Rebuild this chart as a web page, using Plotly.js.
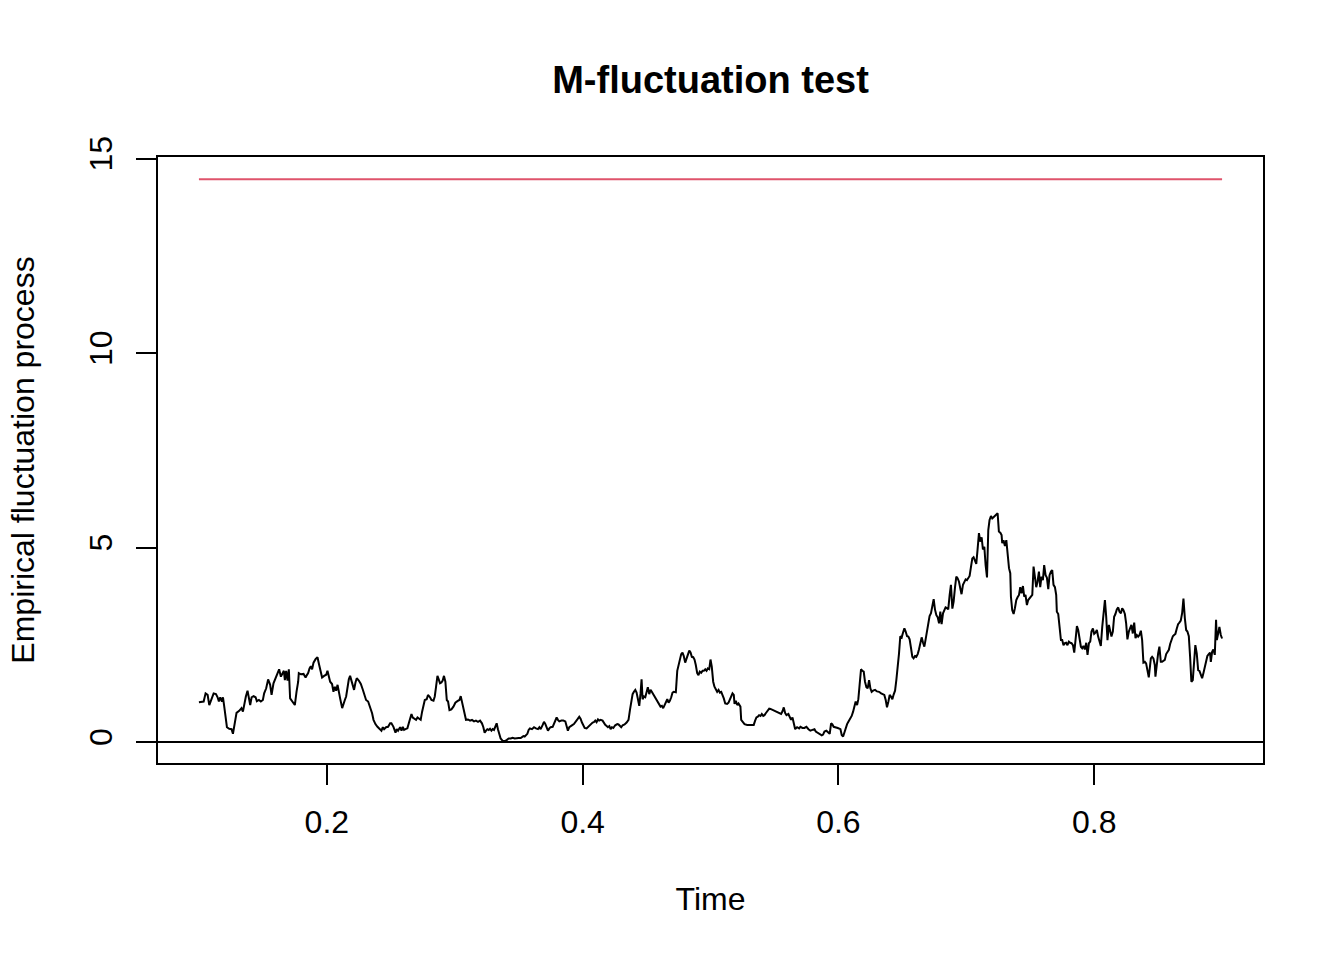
<!DOCTYPE html>
<html>
<head>
<meta charset="utf-8">
<script src="https://cdn.plot.ly/plotly-3.0.1.min.js"></script>
<style>
  html, body { margin: 0; padding: 0; background: #fff; }
  #chart { width: 1344px; height: 960px; }
</style>
</head>
<body>
<div id="chart"></div>
<script>
// empirical fluctuation process
const time = [
  0.1, 0.1037, 0.1052, 0.1068, 0.1081, 0.1099, 0.1115, 0.1133, 0.1146, 0.1156,
  0.1167, 0.118, 0.1188, 0.1198, 0.1211, 0.1219, 0.1237, 0.1255, 0.1266, 0.1276,
  0.1294, 0.1315, 0.1333, 0.1344, 0.1354, 0.1367, 0.138, 0.1391, 0.1401, 0.1412,
  0.1427, 0.1443, 0.1453, 0.1469, 0.1484, 0.15, 0.151, 0.1526, 0.1541, 0.1557,
  0.1568, 0.1583, 0.1599, 0.1615, 0.1627, 0.1641, 0.1654, 0.1664, 0.1672, 0.1682,
  0.1693, 0.1703, 0.1713, 0.1729, 0.175, 0.1763, 0.1776, 0.1781, 0.1797, 0.1818,
  0.1834, 0.1844, 0.1854, 0.1865, 0.1875, 0.1885, 0.1896, 0.1912, 0.1927, 0.1938,
  0.1948, 0.1963, 0.1979, 0.1995, 0.2005, 0.2016, 0.2026, 0.2041, 0.2052, 0.2063,
  0.2073, 0.2084, 0.2094, 0.2104, 0.212, 0.213, 0.2141, 0.2151, 0.2162, 0.2172,
  0.2182, 0.2198, 0.2213, 0.2224, 0.2234, 0.225, 0.2266, 0.2281, 0.2297, 0.2307,
  0.2323, 0.2338, 0.2354, 0.2365, 0.238, 0.2396, 0.2412, 0.2427, 0.2438, 0.2448,
  0.2463, 0.2479, 0.2495,
  0.2505, 0.2521, 0.2537, 0.2547, 0.2557, 0.2573, 0.2584, 0.2594, 0.2604, 0.2615,
  0.263, 0.2641, 0.2651, 0.2662, 0.2672, 0.2682, 0.2698, 0.2709, 0.2724, 0.2734,
  0.2745, 0.2755, 0.2766, 0.2781, 0.2791, 0.2807, 0.2818, 0.2834, 0.2844, 0.2854,
  0.2865, 0.2875, 0.2885, 0.2896, 0.2906, 0.2916, 0.2927, 0.2938, 0.2948, 0.2959,
  0.2974, 0.299, 0.3005, 0.3021, 0.3037, 0.3047, 0.3057, 0.3068, 0.3078, 0.3088,
  0.3104, 0.312, 0.3135, 0.3151, 0.3166, 0.3182, 0.3198, 0.3213, 0.3224, 0.3234,
  0.3245, 0.3255, 0.3266, 0.3276, 0.3287, 0.3297, 0.3307, 0.3318, 0.3328, 0.3338,
  0.3349, 0.3359, 0.3375, 0.3391, 0.3406, 0.3422, 0.3438, 0.3453, 0.3469, 0.3484,
  0.35, 0.3516, 0.3526, 0.3537, 0.3547, 0.3557, 0.3568, 0.3578, 0.3588, 0.3604,
  0.362, 0.3635, 0.3651, 0.3662, 0.3672, 0.3688, 0.3698, 0.3709, 0.3719, 0.3729,
  0.374, 0.375, 0.3766, 0.3776, 0.3787, 0.3797, 0.3807, 0.3818, 0.3834, 0.3849,
  0.3865, 0.3875, 0.3885, 0.3896, 0.3906, 0.3922, 0.3932, 0.3948, 0.3959, 0.3974,
  0.3984, 0.3995, 0.4005, 0.4016, 0.4031, 0.4047, 0.4063, 0.4078, 0.4088, 0.4099,
  0.4109, 0.412, 0.413, 0.4141, 0.4156, 0.4167, 0.4177, 0.4188, 0.4198, 0.4209,
  0.4219, 0.4229, 0.424, 0.4255, 0.4271, 0.4281, 0.4292, 0.4302, 0.4313, 0.4328,
  0.4344, 0.4359, 0.437, 0.438, 0.4391, 0.4401, 0.4412, 0.4422, 0.4432, 0.4443,
  0.4453, 0.4461, 0.4469, 0.4479, 0.449, 0.45, 0.451, 0.4521, 0.4531, 0.4541,
  0.4552, 0.4563, 0.4573, 0.4588, 0.4599, 0.4609, 0.462, 0.463, 0.4641, 0.4651,
  0.4662, 0.4672, 0.4682, 0.4693, 0.4703, 0.4713, 0.4729, 0.474, 0.475, 0.476,
  0.4771, 0.4781, 0.4791, 0.4802, 0.4813, 0.4823, 0.4834, 0.4844, 0.4854, 0.4865,
  0.4875, 0.4885, 0.4896, 0.4906, 0.4916, 0.4927, 0.4938, 0.4948, 0.4959, 0.4969,
  0.4979, 0.499, 0.5, 0.501, 0.5021, 0.5031, 0.5041, 0.5052, 0.5063, 0.5073,
  0.5084, 0.5094, 0.5104, 0.5115, 0.513, 0.5141, 0.5151, 0.5162, 0.5172, 0.5182,
  0.5188, 0.5198, 0.5209, 0.5219, 0.5234, 0.524, 0.525, 0.5266, 0.5287, 0.5313,
  0.5338, 0.5349, 0.5359, 0.537, 0.538, 0.5391, 0.5401, 0.5412, 0.5422, 0.5432,
  0.5443, 0.5459, 0.5469,
  0.549, 0.5505, 0.5521, 0.5537, 0.5552, 0.5563, 0.5573, 0.5584, 0.5594, 0.5609,
  0.562, 0.563, 0.5641, 0.5651, 0.5662, 0.5677, 0.5693, 0.5703, 0.5719, 0.5734,
  0.575, 0.5766, 0.5781, 0.5797, 0.5813, 0.5823, 0.5838, 0.5854, 0.587, 0.588,
  0.5891, 0.5906, 0.5922, 0.5932, 0.5943, 0.5953, 0.5963, 0.5979, 0.5995, 0.6016,
  0.6026, 0.6037, 0.6047, 0.6057, 0.6068, 0.6078, 0.6094, 0.6104, 0.6115, 0.6125,
  0.6135, 0.6146, 0.6156, 0.6166, 0.6177, 0.6188, 0.6198, 0.6208, 0.6219, 0.6229,
  0.624, 0.625, 0.626, 0.6271, 0.6287, 0.6302, 0.6318, 0.6334, 0.6349, 0.6359,
  0.637, 0.638, 0.6391, 0.6401, 0.6412, 0.6422, 0.6432, 0.6443, 0.6453, 0.6463,
  0.6474, 0.6484, 0.6495, 0.6505, 0.6516, 0.6526, 0.6537, 0.6547, 0.6557, 0.6568,
  0.6578, 0.6588, 0.6599, 0.6609, 0.662, 0.663, 0.6641, 0.6651, 0.6662, 0.6672,
  0.6682, 0.6693, 0.6703, 0.6713, 0.6724, 0.6734, 0.6745, 0.6755, 0.6766, 0.6776,
  0.6787, 0.6797, 0.6807, 0.6818, 0.6828, 0.6838, 0.6849, 0.6859, 0.687, 0.688,
  0.6891, 0.6901, 0.6912, 0.6922, 0.6932, 0.6943, 0.6953,
  0.6963, 0.6974, 0.6984, 0.6995, 0.7005, 0.7016, 0.7026, 0.7037, 0.7047, 0.7057,
  0.7068, 0.7078, 0.7088, 0.7099, 0.7109, 0.712, 0.713, 0.7141, 0.7151, 0.7162,
  0.7172, 0.7182, 0.7193, 0.7203, 0.7213, 0.7224, 0.7234, 0.7245, 0.7255, 0.7266,
  0.7276, 0.7281, 0.7291, 0.7302, 0.7313, 0.7323, 0.7334, 0.7344, 0.7349, 0.7359,
  0.737, 0.738, 0.7391, 0.7401, 0.7412, 0.7422, 0.7432, 0.7443, 0.7453, 0.7463,
  0.7474, 0.7484, 0.7495, 0.7505, 0.7516, 0.7526, 0.7537, 0.7547, 0.7557, 0.7568,
  0.7578, 0.7588, 0.7599, 0.7609, 0.762, 0.763, 0.7641, 0.7651, 0.7662, 0.7672,
  0.7682, 0.7693, 0.7703, 0.7708, 0.7719, 0.7729, 0.774, 0.775, 0.776, 0.7771,
  0.7781, 0.7791, 0.7802, 0.7813, 0.7823, 0.7834, 0.7844, 0.7854, 0.7865, 0.7875,
  0.7885, 0.7896, 0.7906, 0.7916, 0.7927, 0.7938, 0.7948, 0.7959, 0.7969, 0.7979,
  0.799, 0.8, 0.801, 0.8021, 0.8031, 0.8041, 0.8052, 0.8063, 0.8073, 0.8084,
  0.8094, 0.8104, 0.8115, 0.8125, 0.8135, 0.8146, 0.8156, 0.8166, 0.8177, 0.8188,
  0.8198, 0.8209, 0.8219, 0.8229, 0.824, 0.825, 0.826, 0.8271, 0.8281, 0.8291,
  0.8302, 0.8313, 0.8323, 0.8334, 0.8344, 0.8354, 0.8365, 0.8375, 0.8385, 0.8396,
  0.8406, 0.8416, 0.8427,
  0.8443, 0.8453, 0.8463, 0.8474, 0.8479, 0.849, 0.85, 0.851, 0.8521, 0.8531,
  0.8541, 0.8552, 0.8563, 0.8573, 0.8584, 0.8594, 0.8604, 0.8615, 0.8625, 0.8635,
  0.8646, 0.8656, 0.8666, 0.8677, 0.8688, 0.8698, 0.8709, 0.8719, 0.8729, 0.874,
  0.875, 0.876, 0.8771, 0.8781, 0.8791, 0.8802, 0.8813, 0.8823, 0.8834, 0.8844,
  0.8854, 0.8865, 0.8875, 0.8885, 0.8896, 0.8906, 0.8912, 0.8922, 0.8932, 0.8943,
  0.8953, 0.8959, 0.8969, 0.8979, 0.899, 0.9
];

const fluct = [
  1.02, 1.04, 1.25, 1.21, 0.95, 1.10, 1.25, 1.23, 1.15, 1.04,
  1.15, 1.04, 1.15, 0.91, 0.57, 0.38, 0.34, 0.33, 0.21, 0.39,
  0.75, 0.80, 0.87, 0.78, 0.99, 1.17, 1.32, 1.12, 0.95, 1.15,
  1.18, 1.15, 1.05, 1.08, 1.04, 1.08, 1.25, 1.38, 1.61, 1.47,
  1.21, 1.51, 1.66, 1.77, 1.87, 1.68, 1.77, 1.83, 1.59, 1.83,
  1.58, 1.87, 1.12, 1.04, 0.95, 1.29, 1.55, 1.77, 1.74, 1.75,
  1.66, 1.72, 1.77, 1.89, 1.95, 1.87, 2.04, 2.13, 2.18, 2.01,
  1.87, 1.66, 1.70, 1.73, 1.83, 1.64, 1.55, 1.49, 1.29, 1.42,
  1.32, 1.47, 1.25, 1.12, 0.87, 0.95, 1.08, 1.17, 1.42, 1.61,
  1.70, 1.51, 1.34, 1.53, 1.64, 1.58, 1.49, 1.35, 1.21, 1.08,
  1.04, 0.91, 0.74, 0.57, 0.46, 0.39, 0.35, 0.29, 0.38, 0.33,
  0.38, 0.39, 0.48,
  0.48, 0.39, 0.24, 0.33, 0.29, 0.38, 0.29, 0.39, 0.31, 0.33,
  0.35, 0.48, 0.61, 0.72, 0.63, 0.60, 0.57, 0.63, 0.58, 0.57,
  0.78, 0.95, 1.08, 1.10, 1.21, 1.15, 1.08, 1.06, 1.17, 1.42,
  1.70, 1.61, 1.51, 1.53, 1.58, 1.70, 1.55, 1.08, 1.04, 0.82,
  0.84, 0.91, 1.01, 1.05, 1.08, 1.18, 1.04, 0.87, 0.67, 0.57,
  0.58, 0.55, 0.57, 0.53, 0.55, 0.52, 0.55, 0.48, 0.38, 0.24,
  0.29, 0.33, 0.31, 0.34, 0.29, 0.33, 0.31, 0.39, 0.48, 0.33,
  0.21, 0.09, 0.03, 0.02, 0.05, 0.09, 0.09, 0.11, 0.09, 0.10,
  0.10, 0.10, 0.12, 0.15, 0.14, 0.17, 0.21, 0.31, 0.35, 0.33,
  0.38, 0.35, 0.33, 0.38, 0.33, 0.44, 0.52, 0.46, 0.35, 0.29,
  0.35, 0.38, 0.39, 0.48, 0.58, 0.63, 0.57, 0.53, 0.55, 0.55,
  0.53, 0.38, 0.29, 0.38, 0.41, 0.44, 0.46, 0.55, 0.58, 0.65,
  0.60, 0.50, 0.41, 0.36, 0.35, 0.41, 0.46, 0.50, 0.51, 0.55,
  0.51, 0.58, 0.55, 0.57, 0.55, 0.48, 0.44, 0.41, 0.38, 0.41,
  0.33, 0.38, 0.36, 0.43, 0.46, 0.45, 0.41, 0.38, 0.43, 0.45,
  0.50, 0.57, 0.82, 1.08, 1.23, 1.29, 1.34, 1.27, 1.12, 0.93,
  1.25, 1.61, 1.10, 1.17, 1.15, 1.27, 1.41, 1.23, 1.34, 1.29,
  1.23, 1.15, 1.12, 1.04, 0.99, 0.91, 0.93, 0.87, 0.95, 1.04,
  1.10, 1.01, 1.06, 1.15, 1.27, 1.29, 1.28, 1.83, 1.98, 2.12,
  2.26, 2.30, 2.21, 2.04, 2.15, 2.24, 2.35, 2.30, 2.19, 2.18,
  2.12, 1.98, 1.77, 1.72, 1.81, 1.78, 1.83, 1.83, 1.87, 1.83,
  1.89, 1.87, 2.12, 1.94, 1.55, 1.42, 1.35, 1.29, 1.34, 1.27,
  1.29, 1.21, 1.12, 0.99, 0.98, 1.01, 1.10, 1.18, 1.25, 1.21,
  0.98, 1.06, 0.95, 0.99, 0.91, 0.57, 0.52, 0.46, 0.44, 0.44,
  0.44, 0.55, 0.63, 0.65, 0.69, 0.67, 0.72, 0.67, 0.69, 0.74,
  0.78, 0.86, 0.85,
  0.82, 0.80, 0.77, 0.75, 0.72, 0.79, 0.89, 0.74, 0.69, 0.72,
  0.65, 0.57, 0.63, 0.50, 0.33, 0.38, 0.35, 0.39, 0.36, 0.36,
  0.39, 0.33, 0.29, 0.31, 0.33, 0.27, 0.24, 0.21, 0.17, 0.19,
  0.27, 0.29, 0.24, 0.21, 0.48, 0.45, 0.39, 0.38, 0.36, 0.33,
  0.18, 0.14, 0.26, 0.34, 0.46, 0.52, 0.61, 0.67, 0.78, 0.93,
  1.04, 0.95, 1.10, 1.47, 1.87, 1.83, 1.81, 1.55, 1.41, 1.38,
  1.59, 1.38, 1.29, 1.32, 1.34, 1.30, 1.29, 1.25, 1.23, 1.21,
  1.08, 0.89, 1.04, 1.21, 1.16, 1.10, 1.22, 1.32, 1.59, 1.89,
  2.28, 2.72, 2.69, 2.81, 2.92, 2.84, 2.72, 2.71, 2.64, 2.41,
  2.19, 2.15, 2.21, 2.19, 2.26, 2.38, 2.58, 2.69, 2.55, 2.45,
  2.64, 2.86, 3.07, 3.24, 3.31, 3.50, 3.67, 3.41, 3.26, 3.21,
  3.05, 3.35, 3.03, 3.31, 3.38, 3.46, 3.44, 3.41, 3.78, 4.04,
  3.43, 3.61, 3.98, 4.25, 4.21, 4.12, 3.95,
  3.80, 4.04, 4.12, 4.18, 4.16, 4.21, 4.27, 4.51, 4.72, 4.75,
  4.68, 4.58, 4.94, 5.37, 5.15, 5.26, 4.95, 5.02, 4.55, 4.23,
  5.45, 5.71, 5.81, 5.75, 5.78, 5.81, 5.84, 5.88, 5.41, 5.38,
  5.32, 5.11, 5.19, 5.04, 5.19, 4.85, 4.47, 4.34, 3.74, 3.39,
  3.29, 3.44, 3.65, 3.72, 3.78, 3.98, 3.82, 4.01, 3.74, 3.78,
  3.52, 3.65, 3.69, 3.74, 3.78, 4.51, 4.16, 3.98, 4.12, 4.38,
  3.98, 4.25, 4.16, 4.55, 4.29, 4.23, 3.93, 4.29, 4.38, 4.42,
  4.04, 3.98, 3.78, 3.35, 3.29, 3.01, 2.62, 2.62, 2.49, 2.54,
  2.55, 2.49, 2.58, 2.55, 2.54, 2.49, 2.30, 2.62, 2.98, 2.88,
  2.62, 2.45, 2.41, 2.47, 2.38, 2.55, 2.24, 2.54, 2.58, 2.84,
  2.92, 2.78, 2.81, 2.88, 2.71, 2.62, 2.47, 2.96, 3.39, 3.65,
  3.22, 2.62, 3.01, 2.84, 2.71, 2.84, 3.22, 3.29, 3.41, 3.46,
  3.35, 3.31, 3.44, 3.39, 3.29, 3.05, 2.64, 2.84, 2.96, 3.01,
  2.79, 3.07, 2.67, 2.75, 2.71, 2.75, 2.86, 2.62, 2.04, 2.06,
  2.02, 1.85, 1.66,
  2.15, 2.19, 2.15, 1.98, 1.68, 2.02, 2.28, 2.45, 2.06, 2.06,
  2.09, 2.11, 2.26, 2.30, 2.37, 2.52, 2.62, 2.72, 2.75, 2.78,
  2.92, 3.03, 3.07, 3.12, 3.32, 3.69, 3.18, 2.88, 2.84, 2.72,
  2.19, 1.55, 1.59, 2.02, 2.49, 2.28, 1.85, 1.83, 1.75, 1.64,
  1.77, 1.94, 2.04, 2.21, 2.26, 2.30, 2.06, 2.32, 2.38, 2.24,
  3.14, 2.62, 2.78, 2.96, 2.75, 2.66
];

// critical boundary of the test
const boundTime = [0.1, 0.9];
const boundValue = [14.47, 14.47];

const xTicks = [0.2, 0.4, 0.6, 0.8];
const xTickText = ["0.2", "0.4", "0.6", "0.8"];
const yTicks = [0, 5, 10, 15];
const yTickText = ["0", "5", "10", "15"];

const font = "Liberation Sans, Arial, Helvetica, sans-serif";

const traces = [
  {
    x: time,
    y: fluct,
    type: "scatter",
    mode: "lines",
    line: { color: "#000000", width: 2 },
    hoverinfo: "skip",
  },
  {
    x: boundTime,
    y: boundValue,
    type: "scatter",
    mode: "lines",
    line: { color: "#DF536B", width: 2 },
    hoverinfo: "skip",
  },
];

const layout = {
  width: 1344,
  height: 960,
  margin: { l: 158, r: 81, t: 157, b: 197 },
  paper_bgcolor: "#ffffff",
  plot_bgcolor: "#ffffff",
  showlegend: false,
  font: { family: font, size: 32, color: "#000000" },
  title: {
    text: "<b>M-fluctuation test</b>",
    font: { family: font, size: 38, color: "#000000" },
    x: 0.5,
    xanchor: "center",
    xref: "paper",
    y: 1 - 80 / 960,
    yanchor: "middle",
  },
  xaxis: {
    range: [0.068, 0.932],
    tickvals: xTicks,
    ticktext: xTickText,
    ticks: "outside",
    ticklen: 20,
    tickwidth: 2,
    tickcolor: "#000000",
    ticklabelstandoff: 10,
    showline: true,
    linewidth: 2,
    linecolor: "#000000",
    mirror: true,
    showgrid: false,
    zeroline: false,
    title: { text: "Time", standoff: 48, font: { family: font, size: 32 } },
  },
  yaxis: {
    range: [-0.54, 15.04],
    tickvals: yTicks,
    ticktext: yTickText,
    tickangle: -90,
    ticks: "outside",
    ticklen: 20,
    tickwidth: 2,
    tickcolor: "#000000",
    ticklabelstandoff: 11,
    showline: true,
    linewidth: 2,
    linecolor: "#000000",
    mirror: true,
    showgrid: false,
    zeroline: false,
    title: {
      text: "Empirical fluctuation process",
      standoff: 39,
      font: { family: font, size: 32 },
    },
  },
  shapes: [
    {
      type: "line",
      xref: "paper",
      yref: "y",
      x0: 0,
      x1: 1,
      y0: 0,
      y1: 0,
      line: { color: "#000000", width: 2 },
    },
  ],
};

Plotly.newPlot("chart", traces, layout, { staticPlot: true });
</script>
</body>
</html>
